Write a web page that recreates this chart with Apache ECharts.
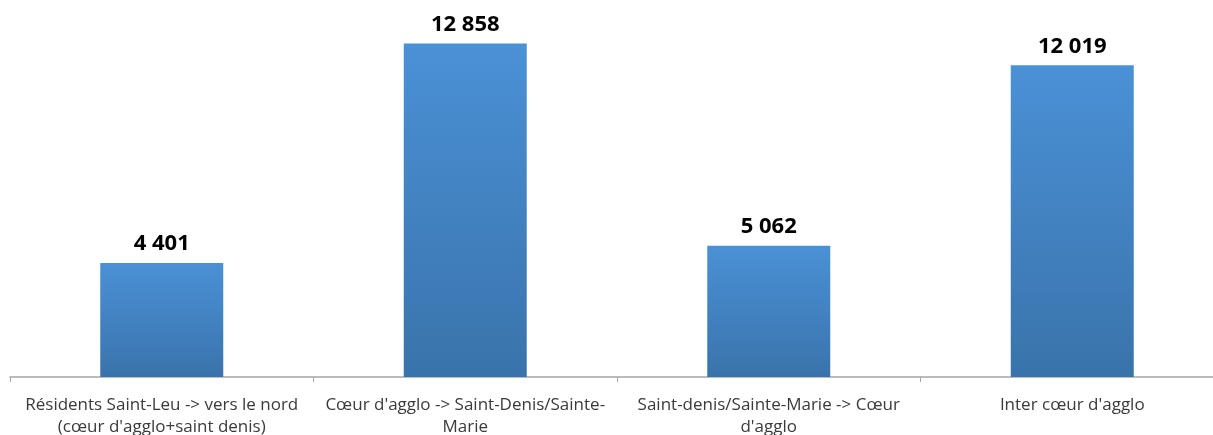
<!DOCTYPE html>
<html>
<head>
<meta charset="utf-8">
<script src="https://cdn.jsdelivr.net/npm/echarts@6/dist/echarts.min.js"></script>
<style>
  html, body { margin: 0; padding: 0; background: #fff; }
  #main { width: 1213px; height: 435px; }
</style>
</head>
<body>
<div id="main"></div>
<script>
// catégories (retours à la ligne comme dans l'original)
const categories = [
  'Résidents Saint-Leu -> vers le nord\n(cœur d\'agglo+saint denis)',
  'Cœur d\'agglo -> Saint-Denis/Sainte-\nMarie',
  'Saint-denis/Sainte-Marie -> Cœur\nd\'agglo',
  'Inter cœur d\'agglo'
]
const values = [4401, 12858, 5062, 12019]

// 12858 -> "12 858"
function fmt(v) {
  return String(v).replace(/\B(?=(\d{3})+(?!\d))/g, ' ')
}

const myChart = echarts.init(document.getElementById('main'))

const option = {
  animation: false,
  grid: {
    left: 10,
    right: -11,
    top: 14,
    bottom: 58,
    outerBoundsMode: 'none',
    containLabel: false
  },
  xAxis: {
    type: 'category',
    data: categories,
    axisLine: { lineStyle: { color: '#a6a6a6', width: 1.5 } },
    axisTick: { show: true, length: 5, lineStyle: { color: '#a6a6a6' } },
    axisLabel: {
      color: '#3a3a3a',
      fontFamily: 'Open Sans',
      fontSize: 17,
      lineHeight: 22,
      margin: 17,
      interval: 0
    }
  },
  yAxis: {
    type: 'value',
    min: 0,
    max: 14000,
    show: false,
    splitLine: { show: false }
  },
  series: [
    {
      type: 'bar',
      data: values,
      barWidth: 123,
      itemStyle: {
        color: new echarts.graphic.LinearGradient(0, 0, 0, 1, [
          { offset: 0, color: '#4a91d6' },
          { offset: 1, color: '#3a73ab' }
        ])
      },
      label: {
        show: true,
        position: 'top',
        distance: 8,
        color: '#000',
        fontFamily: 'Open Sans',
        fontWeight: 'bold',
        fontSize: 22,
        formatter: p => fmt(p.value)
      }
    }
  ]
}

myChart.setOption(option)
</script>
</body>
</html>
